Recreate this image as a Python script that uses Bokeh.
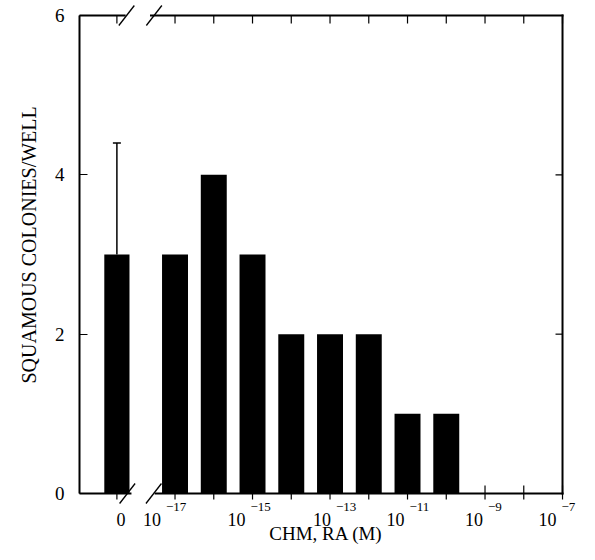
from bokeh.plotting import figure
from bokeh.core.properties import value
from bokeh.models import Range1d, FixedTicker, ColumnDataSource, Whisker, TeeHead, Title
from bokeh.embed import file_html
from bokeh.resources import INLINE

# ---- data ----
control_label = "0"
control_value = 3
control_error_upper = 4.4
exponents = [-17, -16, -15, -14, -13, -12, -11, -10]
values = [3, 4, 3, 2, 2, 2, 1, 1]
decade_ticks = [-17, -16, -15, -14, -13, -12, -11, -10, -9, -8, -7]
labeled_decades = [-17, -15, -13, -11, -9, -7]
y_ticks = [0, 2, 4, 6]
control_pos = -18.5
x_title = "CHM, RA (M)"
y_title = "SQUAMOUS COLONIES/WELL"

# ---- layout / style constants ----
FONT = "Liberation Serif"
W, H = 579, 544
ML = 79                 # left border (y axis panel)
TOP_PAD = 15            # px between canvas top and the y=6 line
PX_X = 38.75            # px per decade
PX_Y = 79.667           # px per colony unit
BOX_LEFT = -19.465
BOX_RIGHT = decade_ticks[-1]
Y_TOP = y_ticks[-1]
GAP_BOTTOM = (-18.15, -17.50)
GAP_TOP = (-18.30, -17.62)
LABEL_DX = [-12, -5, 3, -1, 0, -4]   # typeset nudges of the x tick labels (px)

x_rng = Range1d(BOX_LEFT, BOX_LEFT + (W - ML) / PX_X)
y_rng = Range1d(-(H - TOP_PAD - Y_TOP * PX_Y) / PX_Y, Y_TOP + TOP_PAD / PX_Y)

p = figure(width=W, height=H, x_range=x_rng, y_range=y_rng,
           output_backend="svg", toolbar_location=None, x_axis_location=None,
           y_axis_location="left",
           min_border_left=ML, min_border_right=0, min_border_top=0, min_border_bottom=0)
p.outline_line_color = None
p.grid.visible = False
p.background_fill_color = "white"
p.border_fill_color = "white"

# ---- bars ----
bars = ColumnDataSource(dict(x=exponents, top=values))
p.vbar(x="x", top="top", width=0.67, bottom=0, source=bars, fill_color="black", line_color=None)
ctrl = ColumnDataSource(dict(x=[control_pos], top=[control_value], upper=[control_error_upper]))
p.vbar(x="x", top="top", width=0.65, bottom=0, source=ctrl, fill_color="black", line_color=None)
p.add_layout(Whisker(base="x", lower="top", upper="upper", source=ctrl, dimension="height",
                     line_width=1.5, line_color="black",
                     upper_head=TeeHead(size=8, line_width=1.5), lower_head=None))

# ---- left axis ----
ya = p.yaxis[0]
ya.ticker = FixedTicker(ticks=y_ticks)
ya.bounds = (y_ticks[0], y_ticks[-1])
ya.major_tick_in = 8
ya.major_tick_out = 0
ya.minor_tick_line_color = None
ya.axis_line_width = 2
ya.major_label_text_font = FONT
ya.major_label_text_font_size = "19px"
ya.major_label_text_color = "black"
ya.major_label_standoff = 15

# y title as a side title so it can sit where the original puts it
p.add_layout(Title(text=y_title, align="left", offset=161, standoff=24,
                   text_font=FONT, text_font_size="20px", text_font_style="normal",
                   text_color="black"), "left")

# ---- frame (with axis break) ----
fx0 = [BOX_LEFT, GAP_BOTTOM[1], BOX_LEFT, GAP_TOP[1], BOX_RIGHT]
fx1 = [GAP_BOTTOM[0], BOX_RIGHT, GAP_TOP[0], BOX_RIGHT, BOX_RIGHT]
fy0 = [0, 0, Y_TOP, Y_TOP, 0]
fy1 = [0, 0, Y_TOP, Y_TOP, Y_TOP]
p.segment(x0=fx0, y0=fy0, x1=fx1, y1=fy1, line_color="black", line_width=2, line_cap="square")

# break slashes
sl_h = 10 / PX_Y
sl_w = 0.2
bx = [GAP_BOTTOM[0] - 0.08, GAP_BOTTOM[1] - 0.05]
tx = [GAP_TOP[0] + 0.05, GAP_TOP[1] + 0.08]
p.segment(x0=[c - sl_w for c in bx] + [c - sl_w for c in tx],
          y0=[-sl_h, -sl_h, Y_TOP - sl_h, Y_TOP - sl_h],
          x1=[c + sl_w for c in bx] + [c + sl_w for c in tx],
          y1=[sl_h, sl_h, Y_TOP + sl_h, Y_TOP + sl_h],
          line_color="black", line_width=1.3)

# ---- ticks ----
x_ticks_all = [control_pos] + decade_ticks
nt = len(x_ticks_all)
p.segment(x0=x_ticks_all, x1=x_ticks_all, y0=[-6 / PX_Y] * nt, y1=[8 / PX_Y] * nt,
          line_color="black", line_width=1.2)
p.segment(x0=x_ticks_all, x1=x_ticks_all, y0=[Y_TOP] * nt, y1=[Y_TOP - 8 / PX_Y] * nt,
          line_color="black", line_width=1.2)
inner_y = y_ticks[1:-1]
p.segment(x0=[BOX_RIGHT] * len(inner_y), x1=[BOX_RIGHT - 7 / PX_X] * len(inner_y),
          y0=inner_y, y1=inner_y, line_color="black", line_width=1.2)

# ---- x tick labels ----
n = len(labeled_decades)
lab = ColumnDataSource(dict(x=labeled_decades, y=[0] * n, base=["10"] * n,
                            exp=["\u2212%d" % (-e) for e in labeled_decades],
                            dx_base=[d - 2 for d in LABEL_DX],
                            dx_exp=[d + 3 for d in LABEL_DX]))
p.text(x="x", y="y", text="base", source=lab, x_offset="dx_base", y_offset=26,
       text_align="right", text_baseline="alphabetic",
       text_font=value(FONT), text_font_size=value("18px"), text_color="black")
p.text(x="x", y="y", text="exp", source=lab, x_offset="dx_exp", y_offset=13,
       text_align="left", text_baseline="alphabetic",
       text_font=value(FONT), text_font_size=value("13px"), text_color="black")
p.text(x=[control_pos], y=[0], text=[control_label], x_offset=4, y_offset=26,
       text_align="center", text_baseline="alphabetic",
       text_font=value(FONT), text_font_size=value("18px"), text_color="black")

# ---- x title ----
p.text(x=[(BOX_LEFT + BOX_RIGHT) / 2], y=[0], text=[x_title], x_offset=5, y_offset=40,
       text_align="center", text_baseline="alphabetic",
       text_font=value(FONT), text_font_size=value("19px"), text_color="black")

open("out.html", "w").write(file_html(p, INLINE))
